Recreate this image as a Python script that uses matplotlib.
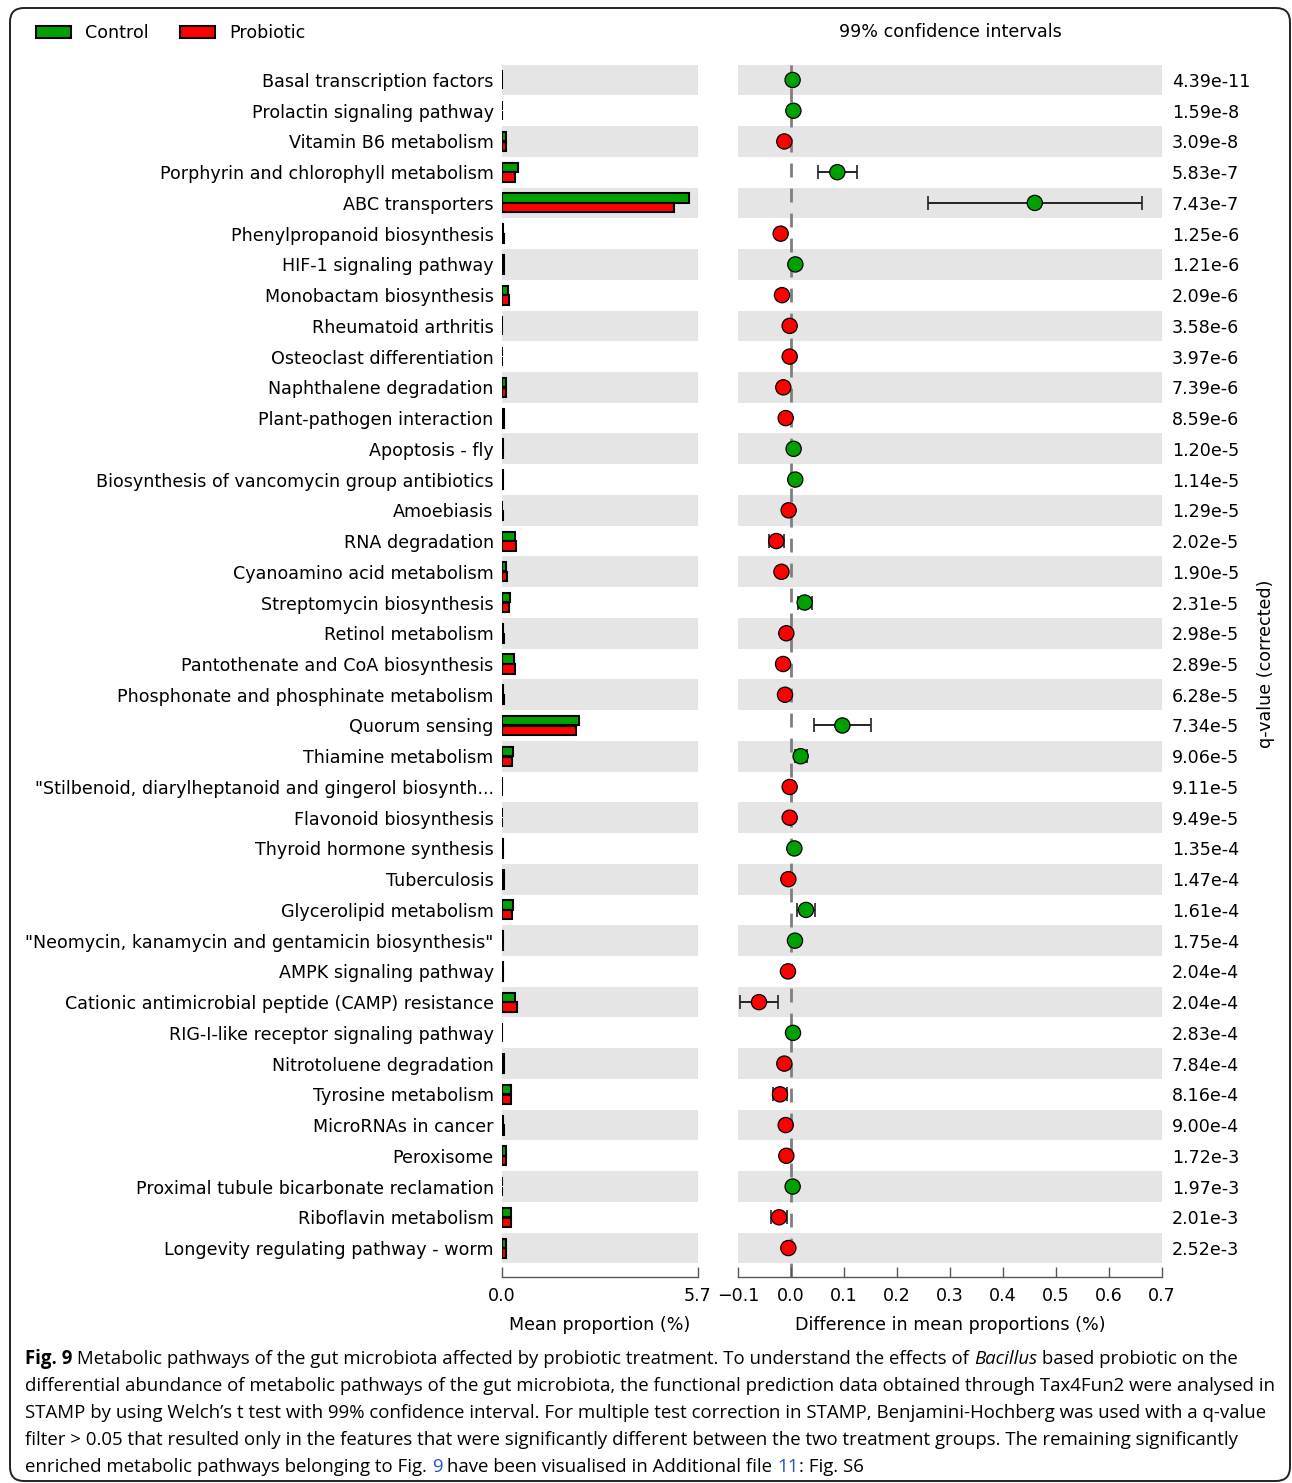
import matplotlib
matplotlib.use("Agg")
import matplotlib.pyplot as plt
from matplotlib.patches import Patch, FancyBboxPatch
from matplotlib.transforms import IdentityTransform
import numpy as np

# ---- data -------------------------------------------------------------
pathways = [
    "Basal transcription factors",
    "Prolactin signaling pathway",
    "Vitamin B6 metabolism",
    "Porphyrin and chlorophyll metabolism",
    "ABC transporters",
    "Phenylpropanoid biosynthesis",
    "HIF-1 signaling pathway",
    "Monobactam biosynthesis",
    "Rheumatoid arthritis",
    "Osteoclast differentiation",
    "Naphthalene degradation",
    "Plant-pathogen interaction",
    "Apoptosis - fly",
    "Biosynthesis of vancomycin group antibiotics",
    "Amoebiasis",
    "RNA degradation",
    "Cyanoamino acid metabolism",
    "Streptomycin biosynthesis",
    "Retinol metabolism",
    "Pantothenate and CoA biosynthesis",
    "Phosphonate and phosphinate metabolism",
    "Quorum sensing",
    "Thiamine metabolism",
    "\"Stilbenoid, diarylheptanoid and gingerol biosynth...",
    "Flavonoid biosynthesis",
    "Thyroid hormone synthesis",
    "Tuberculosis",
    "Glycerolipid metabolism",
    "\"Neomycin, kanamycin and gentamicin biosynthesis\"",
    "AMPK signaling pathway",
    "Cationic antimicrobial peptide (CAMP) resistance",
    "RIG-I-like receptor signaling pathway",
    "Nitrotoluene degradation",
    "Tyrosine metabolism",
    "MicroRNAs in cancer",
    "Peroxisome",
    "Proximal tubule bicarbonate reclamation",
    "Riboflavin metabolism",
    "Longevity regulating pathway - worm",
]

control_mean = [0.01, 0.01, 0.12, 0.47, 5.44, 0.04, 0.06, 0.17, 0.01, 0.01,
                0.11, 0.05, 0.02, 0.04, 0.01, 0.38, 0.13, 0.23, 0.04, 0.35,
                0.04, 2.24, 0.32, 0.01, 0.01, 0.02, 0.05, 0.32, 0.04, 0.03,
                0.38, 0.01, 0.05, 0.25, 0.04, 0.12, 0.01, 0.25, 0.12]

probiotic_mean = [0.01, 0.01, 0.12, 0.38, 5.00, 0.06, 0.05, 0.19, 0.01, 0.01,
                  0.12, 0.06, 0.015, 0.03, 0.015, 0.41, 0.15, 0.20, 0.05, 0.37,
                  0.05, 2.14, 0.30, 0.01, 0.01, 0.015, 0.055, 0.29, 0.035, 0.035,
                  0.44, 0.01, 0.06, 0.27, 0.05, 0.13, 0.01, 0.27, 0.12]

mean_diff = [0.003, 0.0045, -0.0126, 0.0874, 0.460, -0.0195, 0.0082, -0.017,
             -0.0025, -0.0025, -0.0145, -0.010, 0.005, 0.008, -0.0044, -0.0277,
             -0.018, 0.0258, -0.0088, -0.015, -0.0113, 0.0969, 0.0182, -0.0025,
             -0.0025, 0.0063, -0.005, 0.0283, 0.0075, -0.0057, -0.0604, 0.0038,
             -0.0126, -0.0208, -0.010, -0.0088, 0.0031, -0.0226, -0.005]

ci_low = [0.001, 0.0025, -0.0156, 0.050, 0.258, -0.0225, 0.0062, -0.023,
          -0.0040, -0.0040, -0.0185, -0.013, 0.003, 0.006, -0.0060, -0.042,
          -0.023, 0.0126, -0.0110, -0.019, -0.0140, 0.0434, 0.0075, -0.0035,
          -0.0035, 0.0048, -0.0070, 0.0113, 0.0055, -0.0075, -0.0968, 0.0025,
          -0.0166, -0.034, -0.0125, -0.0110, 0.0020, -0.037, -0.0075]

ci_high = [0.005, 0.0065, -0.0096, 0.125, 0.662, -0.0165, 0.0102, -0.011,
           -0.0010, -0.0010, -0.0105, -0.007, 0.007, 0.010, -0.0028, -0.0138,
           -0.013, 0.0396, -0.0066, -0.011, -0.0086, 0.151, 0.0296, -0.0015,
           -0.0015, 0.0078, -0.0030, 0.046, 0.0095, -0.0039, -0.0245, 0.0051,
           -0.0086, -0.0075, -0.0075, -0.0066, 0.0042, -0.008, -0.0025]

q_values = ["4.39e-11", "1.59e-8", "3.09e-8", "5.83e-7", "7.43e-7", "1.25e-6",
            "1.21e-6", "2.09e-6", "3.58e-6", "3.97e-6", "7.39e-6", "8.59e-6",
            "1.20e-5", "1.14e-5", "1.29e-5", "2.02e-5", "1.90e-5", "2.31e-5",
            "2.98e-5", "2.89e-5", "6.28e-5", "7.34e-5", "9.06e-5", "9.11e-5",
            "9.49e-5", "1.35e-4", "1.47e-4", "1.61e-4", "1.75e-4", "2.04e-4",
            "2.04e-4", "2.83e-4", "7.84e-4", "8.16e-4", "9.00e-4", "1.72e-3",
            "1.97e-3", "2.01e-3", "2.52e-3"]

group_names = ["Control", "Probiotic"]
mean_ticks = [0.0, 5.7]
diff_ticks = [-0.1, 0.0, 0.1, 0.2, 0.3, 0.4, 0.5, 0.6, 0.7]

# ---- style ------------------------------------------------------------
GREEN = "#00a000"
RED = "#ff0000"
BAND = "#e5e5e5"
FS = 12.65
plt.rcParams["font.family"] = ["DejaVu Sans"]

W, H = 1292, 1483
fig = plt.figure(figsize=(W / 100, H / 100), dpi=100)


def fx(px):
    return px / W


def fy(px):
    return 1 - px / H


n = len(pathways)
ypos = np.arange(n)
ax_top, ax_bot = 64.6, 1277.0
ylim = (n - 1 + 0.5 + (ax_bot - 1263.4) / 30.74, -0.5)

ax1 = fig.add_axes([fx(502), fy(ax_bot), fx(698) - fx(502), (ax_bot - ax_top) / H])
ax2 = fig.add_axes([fx(738), fy(ax_bot), fx(1162) - fx(738), (ax_bot - ax_top) / H])

for ax in (ax1, ax2):
    for i in range(0, n, 2):
        ax.axhspan(i - 0.5, i + 0.5, color=BAND, lw=0, zorder=0)
    ax.set_ylim(*ylim)
    for s in ("top", "right", "left"):
        ax.spines[s].set_visible(False)
    ax.spines["bottom"].set_color("#555555")
    ax.spines["bottom"].set_linewidth(1.0)
    ax.tick_params(axis="x", direction="in", length=7, width=1.0,
                   color="#555555", labelsize=FS, pad=7.5)
    ax.tick_params(axis="y", length=0)

# mean proportion bars
bh = 0.3
ax1.barh(ypos - 0.16, control_mean, height=bh, color=GREEN,
         edgecolor="black", linewidth=1.5, zorder=2)
ax1.barh(ypos + 0.16, probiotic_mean, height=bh, color=RED,
         edgecolor="black", linewidth=1.5, zorder=2)
ax1.set_xlim(mean_ticks[0], mean_ticks[-1])
ax1.set_xticks(mean_ticks)
ax1.set_xticklabels([f"{t:.1f}" for t in mean_ticks])
ax1.set_yticks(ypos)
ax1.set_yticklabels(pathways, fontsize=FS)
ax1.tick_params(axis="y", pad=6)
ax1.set_xlabel("Mean proportion (%)", fontsize=FS, labelpad=7.5)

# difference in mean proportions with confidence intervals
ax2.axvline(0, color="#7f7f7f", lw=2, ls=(0, (5, 4)), zorder=1)
diff = np.array(mean_diff)
lo = diff - np.array(ci_low)
hi = np.array(ci_high) - diff
colors = [GREEN if d > 0 else RED for d in diff]
ax2.errorbar(diff, ypos, xerr=[lo, hi], fmt="none", ecolor="#222222",
             elinewidth=1.4, capsize=5, capthick=1.2, zorder=2)
ax2.scatter(diff, ypos, s=120, c=colors, edgecolors="black", linewidths=0.9,
            zorder=3)
ax2.set_xlim(diff_ticks[0], diff_ticks[-1])
ax2.set_xticks(diff_ticks)
ax2.set_xticklabels([f"{t:.1f}".replace("-", "\u2212") for t in diff_ticks])
ax2.set_yticks(ypos)
ax2.set_yticklabels(q_values, fontsize=FS)
ax2.tick_params(axis="y", labelleft=False, labelright=True, pad=7)
ax2.set_xlabel("Difference in mean proportions (%)", fontsize=FS, labelpad=7.5)

fig.text(fx(1266), fy(664), "q-value (corrected)", rotation=90,
         ha="center", va="center", fontsize=FS)
fig.text(fx(950), fy(32), "99% confidence intervals", ha="center",
         va="center", fontsize=FS)

handles = [Patch(facecolor=GREEN, edgecolor="black", linewidth=1.5),
           Patch(facecolor=RED, edgecolor="black", linewidth=1.5)]
fig.legend(handles, group_names, loc="center left",
           bbox_to_anchor=(fx(20), fy(33)), ncol=2, frameon=False,
           fontsize=FS, handlelength=2.0, handleheight=0.7,
           handletextpad=0.8, columnspacing=1.8)

# outer rounded frame
frame = FancyBboxPatch((10, 2), 1280, 1473,
                       boxstyle="round,pad=0,rounding_size=14",
                       transform=IdentityTransform(), fill=False,
                       edgecolor="#222222", linewidth=1.4)
fig.add_artist(frame)

# caption, drawn run by run
CAP = ["Open Sans", "DejaVu Sans"]
CFS = 13.4
BLUE = "#2255cc"
renderer = fig.canvas.get_renderer()


def draw_runs(x0, y0, runs):
    x = x0
    for text, style in runs:
        t = fig.text(x, y0, text, transform=IdentityTransform(),
                     ha="left", va="center", fontsize=CFS, family=CAP,
                     **style)
        x += t.get_window_extent(renderer).width


cap_lines = [
    [("Fig. 9", {"weight": "bold"}),
     (" Metabolic pathways of the gut microbiota affected by probiotic treatment. "
      "To understand the effects of ", {}),
     ("Bacillus", {"style": "italic"}),
     (" based probiotic on the", {})],
    [("differential abundance of metabolic pathways of the gut microbiota, the "
      "functional prediction data obtained through Tax4Fun2 were analysed in", {})],
    [("STAMP by using Welch\u2019s t test with 99% confidence interval. For multiple "
      "test correction in STAMP, Benjamini-Hochberg was used with a q-value", {})],
    [("filter > 0.05 that resulted only in the features that were significantly "
      "different between the two treatment groups. The remaining significantly", {})],
    [("enriched metabolic pathways belonging to Fig. ", {}),
     ("9", {"color": BLUE}),
     (" have been visualised in Additional file ", {}),
     ("11", {"color": BLUE}),
     (": Fig. S6", {})],
]
cap_y = [1359, 1386, 1413, 1440, 1467]
for yy, runs in zip(cap_y, cap_lines):
    draw_runs(25, H - yy, runs)

fig.savefig("out.png", dpi=100)
